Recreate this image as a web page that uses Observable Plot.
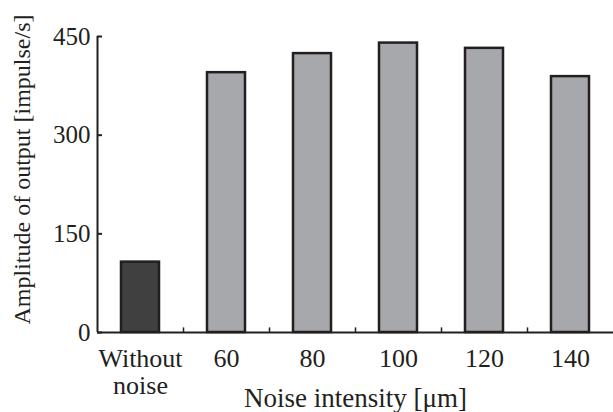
<!DOCTYPE html>
<html>
<head>
<meta charset="utf-8">
<script src="https://cdn.jsdelivr.net/npm/d3@7"></script>
<script src="https://cdn.jsdelivr.net/npm/@observablehq/plot@0.6"></script>
<style>
  html, body { margin: 0; padding: 0; background: #fff; }
  #chart svg { display: block; }
</style>
</head>
<body>
<div id="chart"></div>
<script>
const categories = ["Without\nnoise", "60", "80", "100", "120", "140"];
const values = [107, 395, 424, 440, 432, 389];
const groups = ["none", "noise", "noise", "noise", "noise", "noise"];
const yTicks = [0, 150, 300, 450];
const xTitle = "Noise intensity [μm]";
const yTitle = "Amplitude of output [impulse/s]";

const data = categories.map((c, i) => ({cat: c, value: values[i], group: groups[i]}));

const W = 613, H = 412;
const mL = 97, mR = 0, mT = 36, mB = 80;
const halfStep = (W - mL - mR) / categories.length / 2;
const font = "'Liberation Serif', 'Times New Roman', serif";

const chart = Plot.plot({
  width: W,
  height: H,
  marginLeft: mL,
  marginRight: mR,
  marginTop: mT,
  marginBottom: mB,
  style: {fontFamily: font, fontSize: "24px", color: "#231f20", background: "#fff"},
  x: {domain: categories, paddingInner: 0.558, paddingOuter: 0.279, axis: null, label: null},
  y: {domain: [0, 450], axis: null, label: null},
  color: {domain: ["none", "noise"], range: ["#404040", "#a7a8ab"]},
  marks: [
    Plot.barY(data, {x: "cat", y: "value", fill: "group", stroke: "#231f20", strokeWidth: 2.5}),
    // y axis line
    Plot.ruleX([categories[0]], {x: d => d, dx: -halfStep, y1: 0, y2: 450, stroke: "#231f20", strokeWidth: 2}),
    // x axis line
    Plot.ruleY([0], {stroke: "#231f20", strokeWidth: 2}),
    // inward x ticks between bands
    Plot.ruleX(categories.slice(0, -1), {x: d => d, dx: halfStep, y1: 0, y2: 7, stroke: "#231f20", strokeWidth: 1.5}),
    // y axis ticks (inward) and labels
    Plot.axisY(yTicks, {tickSize: -5, tickFormat: () => "", label: null, stroke: "#231f20", strokeWidth: 2}),
    Plot.axisY(yTicks, {tickSize: 0, tickPadding: 7, label: null, fontSize: 25, fill: "#231f20"}),
    Plot.axisX({tickSize: 0, tickPadding: 16, label: null, fontSize: 26, fill: "#231f20", lineHeight: 1.02, lineAnchor: "top"}),
    Plot.text([xTitle], {frameAnchor: "bottom", dy: 66, fontSize: 27, fill: "#231f20", lineAnchor: "middle"}),
    Plot.text([yTitle], {frameAnchor: "left", dx: -75, dy: -15, rotate: -90, textAnchor: "middle", fontSize: 24, fill: "#231f20"})
  ]
});
document.getElementById("chart").appendChild(chart);
</script>
</body>
</html>
